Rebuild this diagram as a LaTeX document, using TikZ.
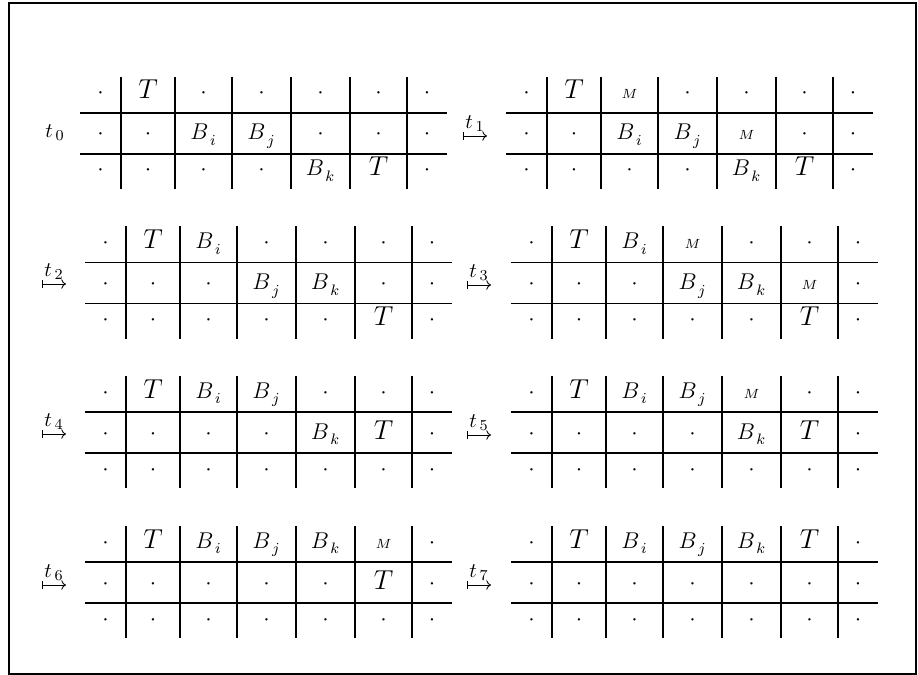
\documentclass[tikz,border=0pt]{standalone}
\usetikzlibrary{arrows.meta}
\usetikzlibrary{calc}

% cell entries
\newcommand{\cellDot}{$\cdot$}
\newcommand{\cellT}{{\fontsize{14}{16}\selectfont$T$}}
\newcommand{\cellM}{{\fontsize{7}{8}\selectfont$M$}}
\newcommand{\cellB}[1]{$B_{\,\lower1.2pt\hbox{$\scriptstyle #1$}}$}

% one board: name, left x, y of first row line, top row, middle row, bottom row
\newcommand{\board}[6]{%
    \begin{scope}[shift={(#2,#3)}]
        % row lines
        \draw[gridline] (0,0) -- (367,0);
        \draw[gridline] (0,41) -- (367,41);
        % column lines
        \foreach \x in {41,95,152,211,270,327}
        {
            \draw[gridline] (\x,-36) -- (\x,76);
        }
        % entries
        \foreach \txt [count=\c] in {#4}
        {
            \pgfmathsetmacro{\cx}{{20.5,68,123.5,181.5,240.5,298.5,347}[\c-1]}
            \node[cell] (#1-top-\c) at (\cx,-14) {\txt};
        }
        \foreach \txt [count=\c] in {#5}
        {
            \pgfmathsetmacro{\cx}{{20.5,68,123.5,181.5,240.5,298.5,347}[\c-1]}
            \node[cell] (#1-mid-\c) at (\cx,27) {\txt};
        }
        \foreach \txt [count=\c] in {#6}
        {
            \pgfmathsetmacro{\cx}{{20.5,68,123.5,181.5,240.5,298.5,347}[\c-1]}
            \node[cell] (#1-bot-\c) at (\cx,63) {\txt};
        }
    \end{scope}}

\tikzset{
    gridline/.style={line width=1.05pt},
    cell/.style={anchor=base, inner sep=0pt, font=\fontsize{11.5}{13}\selectfont},
    mapsarrow/.style={line width=0.45pt, {Bar[width=4.5pt]}-{To[length=2.5pt,width=5pt]}}
}

\begin{document}
\begin{tikzpicture}[x=0.526pt, y=-0.526pt]
        \useasboundingbox (0,0) rectangle (918,675);
        % frame
        \draw[line width=1pt] (9,3) rectangle (916,674);
        % arrow coordinates
        \coordinate (s1) at (463,136);
        \coordinate (e1) at (487,136);
        \foreach \n/\y in {2/284, 4/434, 6/585}
        {
            \coordinate (s\n) at (42,\y);
            \coordinate (e\n) at (66,\y);
        }
        \foreach \n/\y in {3/285, 5/435, 7/585}
        {
            \coordinate (s\n) at (467,\y);
            \coordinate (e\n) at (491,\y);
        }
        % first label
        \node[font=\fontsize{11}{13}\selectfont] (t0) at (55,133) {$t_{\,0}$};
        % steps
        \foreach \n in {1,...,7}
        {
            \draw[mapsarrow] (s\n) -- (e\n) node[midway, above=1pt, inner sep=1pt, font=\fontsize{11}{13}\selectfont] (t\n) {$t_{\,\n}$};
        }
        % boards
        \board{b0}{80}{113}
            {\cellDot,\cellT,\cellDot,\cellDot,\cellDot,\cellDot,\cellDot}
            {\cellDot,\cellDot,\cellB{i},\cellB{j},\cellDot,\cellDot,\cellDot}
            {\cellDot,\cellDot,\cellDot,\cellDot,\cellB{k},\cellT,\cellDot}
        \board{b1}{506}{113}
            {\cellDot,\cellT,\cellM,\cellDot,\cellDot,\cellDot,\cellDot}
            {\cellDot,\cellDot,\cellB{i},\cellB{j},\cellM,\cellDot,\cellDot}
            {\cellDot,\cellDot,\cellDot,\cellDot,\cellB{k},\cellT,\cellDot}
        \board{b2}{85}{262.5}
            {\cellDot,\cellT,\cellB{i},\cellDot,\cellDot,\cellDot,\cellDot}
            {\cellDot,\cellDot,\cellDot,\cellB{j},\cellB{k},\cellDot,\cellDot}
            {\cellDot,\cellDot,\cellDot,\cellDot,\cellDot,\cellT,\cellDot}
        \board{b3}{511}{262.5}
            {\cellDot,\cellT,\cellB{i},\cellM,\cellDot,\cellDot,\cellDot}
            {\cellDot,\cellDot,\cellDot,\cellB{j},\cellB{k},\cellM,\cellDot}
            {\cellDot,\cellDot,\cellDot,\cellDot,\cellDot,\cellT,\cellDot}
        \board{b4}{85}{412}
            {\cellDot,\cellT,\cellB{i},\cellB{j},\cellDot,\cellDot,\cellDot}
            {\cellDot,\cellDot,\cellDot,\cellDot,\cellB{k},\cellT,\cellDot}
            {\cellDot,\cellDot,\cellDot,\cellDot,\cellDot,\cellDot,\cellDot}
        \board{b5}{511}{412}
            {\cellDot,\cellT,\cellB{i},\cellB{j},\cellM,\cellDot,\cellDot}
            {\cellDot,\cellDot,\cellDot,\cellDot,\cellB{k},\cellT,\cellDot}
            {\cellDot,\cellDot,\cellDot,\cellDot,\cellDot,\cellDot,\cellDot}
        \board{b6}{85}{562}
            {\cellDot,\cellT,\cellB{i},\cellB{j},\cellB{k},\cellM,\cellDot}
            {\cellDot,\cellDot,\cellDot,\cellDot,\cellDot,\cellT,\cellDot}
            {\cellDot,\cellDot,\cellDot,\cellDot,\cellDot,\cellDot,\cellDot}
        \board{b7}{511}{562}
            {\cellDot,\cellT,\cellB{i},\cellB{j},\cellB{k},\cellT,\cellDot}
            {\cellDot,\cellDot,\cellDot,\cellDot,\cellDot,\cellDot,\cellDot}
            {\cellDot,\cellDot,\cellDot,\cellDot,\cellDot,\cellDot,\cellDot}
    \end{tikzpicture}
\end{document}
